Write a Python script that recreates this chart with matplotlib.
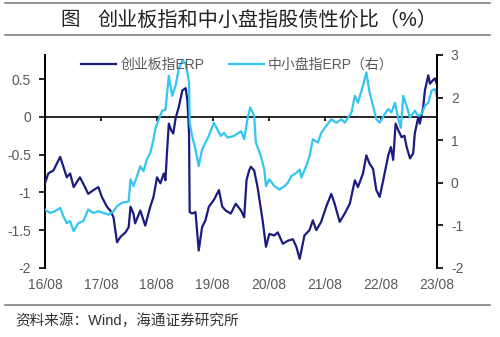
import matplotlib
matplotlib.use("Agg")
import matplotlib.pyplot as plt
import matplotlib.dates as mdates
import matplotlib.ticker as mticker
from matplotlib.lines import Line2D
import pandas as pd

plt.rcParams['font.family'] = ['Liberation Sans', 'Noto Sans CJK SC', 'DejaVu Sans']
plt.rcParams['axes.unicode_minus'] = False

# 创业板指ERP (left axis)
chinext_dates = [
    "2016-08-01", "2016-08-22", "2016-09-25", "2016-11-08", "2016-11-29", "2016-12-21",
    "2017-01-12", "2017-02-04", "2017-03-17", "2017-04-19", "2017-05-10", "2017-06-13",
    "2017-07-15", "2017-08-07", "2017-09-09", "2017-10-01", "2017-10-22", "2017-11-14",
    "2017-12-06", "2018-01-08", "2018-01-29", "2018-02-10", "2018-03-01", "2018-03-12",
    "2018-04-15", "2018-05-17", "2018-06-19", "2018-07-10", "2018-08-02", "2018-08-24",
    "2018-09-15", "2018-09-26", "2018-10-07", "2018-10-18", "2018-11-03", "2018-11-16",
    "2018-12-01", "2018-12-22", "2019-01-14", "2019-02-05", "2019-02-16", "2019-02-27",
    "2019-03-03", "2019-03-19", "2019-04-10", "2019-05-01", "2019-05-23", "2019-06-14",
    "2019-07-06", "2019-08-08", "2019-09-10", "2019-10-02", "2019-10-24", "2019-11-26",
    "2019-12-29", "2020-02-01", "2020-02-22", "2020-03-08", "2020-03-25", "2020-04-05",
    "2020-04-27", "2020-05-19", "2020-06-21", "2020-07-13", "2020-08-04", "2020-09-06",
    "2020-09-28", "2020-10-31", "2020-12-03", "2021-01-05", "2021-01-27", "2021-02-18",
    "2021-03-21", "2021-04-23", "2021-05-15", "2021-06-06", "2021-07-08", "2021-08-10",
    "2021-09-12", "2021-10-04", "2021-11-06", "2021-12-09", "2022-01-11", "2022-02-13",
    "2022-03-05", "2022-04-07", "2022-04-29", "2022-05-20", "2022-06-12", "2022-07-03",
    "2022-07-25", "2022-08-17", "2022-09-19", "2022-10-06", "2022-10-21", "2022-11-06",
    "2022-11-24", "2022-12-15", "2023-01-02", "2023-01-17", "2023-02-08", "2023-03-01",
    "2023-03-11", "2023-04-03", "2023-04-13", "2023-05-05", "2023-05-16", "2023-06-07",
    "2023-06-18", "2023-07-10", "2023-07-20", "2023-08-01",
]
chinext_erp = [
    -0.88, -0.75, -0.71, -0.53, -0.66, -0.80,
    -0.75, -0.93, -0.80, -0.93, -1.02, -0.97,
    -0.93, -1.06, -1.19, -1.24, -1.33, -1.66,
    -1.59, -1.53, -1.46, -1.19, -1.28, -1.41,
    -1.24, -1.44, -1.19, -1.06, -0.80, -0.88,
    -0.75, -0.84, -0.44, -0.09, -0.18, -0.22,
    -0.02, 0.13, 0.35, 0.38, 0.22, -0.22,
    -1.26, -1.28, -1.26, -1.77, -1.46, -1.37,
    -1.19, -1.10, -0.97, -1.19, -1.24, -1.28,
    -1.15, -1.24, -1.33, -0.84, -0.71, -0.66,
    -0.71, -0.93, -1.37, -1.72, -1.55, -1.57,
    -1.53, -1.68, -1.64, -1.62, -1.72, -1.88,
    -1.57, -1.50, -1.37, -1.50, -1.39, -1.19,
    -1.02, -1.15, -1.39, -1.28, -1.15, -0.84,
    -0.93, -0.75, -0.51, -0.62, -0.69, -0.97,
    -1.06, -0.84, -0.51, -0.40, -0.57, -0.09,
    -0.18, -0.27, -0.25, -0.40, -0.55, -0.48,
    -0.22, 0.00, -0.09, 0.13, 0.35, 0.55,
    0.44, 0.49, 0.51, 0.44,
]

# 中小盘指ERP (right axis)
smallcap_dates = [
    "2016-08-01", "2016-09-03", "2016-10-05", "2016-11-08", "2016-11-29", "2016-12-21",
    "2017-01-12", "2017-02-04", "2017-03-06", "2017-04-08", "2017-05-10", "2017-06-13",
    "2017-07-15", "2017-08-18", "2017-09-20", "2017-10-22", "2017-11-14", "2017-12-17",
    "2018-01-29", "2018-02-10", "2018-03-01", "2018-03-24", "2018-04-15", "2018-05-06",
    "2018-05-28", "2018-06-19", "2018-07-10", "2018-07-21", "2018-08-13", "2018-09-05",
    "2018-09-26", "2018-10-18", "2018-11-09", "2018-12-01", "2018-12-22", "2019-01-14",
    "2019-02-05", "2019-02-27", "2019-03-03", "2019-03-19", "2019-04-10", "2019-05-01",
    "2019-05-23", "2019-06-14", "2019-07-06", "2019-08-08", "2019-08-31", "2019-09-22",
    "2019-10-13", "2019-11-05", "2019-12-18", "2020-02-01", "2020-02-22", "2020-03-14",
    "2020-04-01", "2020-04-27", "2020-05-08", "2020-06-10", "2020-07-02", "2020-07-13",
    "2020-08-04", "2020-09-06", "2020-10-09", "2020-11-11", "2020-12-03", "2020-12-24",
    "2021-01-27", "2021-02-18", "2021-03-01", "2021-04-01", "2021-04-23", "2021-05-15",
    "2021-06-17", "2021-07-08", "2021-08-10", "2021-09-12", "2021-10-15", "2021-11-17",
    "2021-12-09", "2021-12-31", "2022-01-22", "2022-02-13", "2022-03-05", "2022-04-07",
    "2022-04-29", "2022-05-20", "2022-06-12", "2022-07-03", "2022-07-25", "2022-08-27",
    "2022-09-19", "2022-10-10", "2022-11-01", "2022-11-24", "2022-12-10", "2022-12-26",
    "2023-01-17", "2023-02-08", "2023-03-11", "2023-04-03", "2023-04-24", "2023-05-16",
    "2023-06-07", "2023-06-29", "2023-07-20", "2023-08-01",
]
smallcap_erp = [
    -0.63, -0.71, -0.67, -0.59, -0.79, -0.95,
    -0.90, -1.14, -0.95, -0.90, -0.63, -0.71,
    -0.67, -0.71, -0.75, -0.67, -0.55, -0.47,
    -0.44, 0.08, -0.08, 0.15, 0.39, 0.27,
    0.55, 0.70, 1.02, 1.25, 1.49, 1.69,
    1.71, 2.51, 2.04, 2.28, 2.67, 2.87,
    2.80, 2.36, 1.41, 1.10, 0.78, 0.39,
    0.78, 0.94, 1.10, 1.41, 1.25, 1.10,
    1.17, 1.06, 1.10, 1.21, 1.02, 1.49,
    1.77, 1.57, 0.94, 0.62, 0.31, -0.08,
    0.08, -0.08, -0.16, -0.08, 0.00, 0.15,
    0.23, 0.31, 0.12, 0.39, 0.62, 1.02,
    0.94, 1.17, 1.33, 1.49, 1.41, 1.49,
    1.41, 1.53, 1.65, 2.04, 1.88, 2.28,
    2.59, 2.12, 1.80, 1.49, 1.41, 1.61,
    1.73, 1.65, 1.88, 1.49, 1.29, 2.04,
    1.80, 1.53, 1.69, 1.57, 1.61, 1.80,
    1.88, 2.16, 2.20, 2.04,
]

left_ticks = [-2, -1.5, -1, -0.5, 0, 0.5]
right_ticks = [-2, -1, 0, 1, 2, 3]

NAVY = "#1b1b80"
CYAN = "#33c6f0"
GRAY = "#595959"

d1 = pd.to_datetime(chinext_dates)
d2 = pd.to_datetime(smallcap_dates)

fig = plt.figure(figsize=(5, 3.37), dpi=100)
ax = fig.add_axes([0.09, 0.205, 0.784, 0.632])
ax2 = ax.twinx()

l1, = ax.plot(d1, chinext_erp, color=NAVY, lw=1.6, zorder=3)
l2, = ax2.plot(d2, smallcap_erp, color=CYAN, lw=1.6)

ax.set_ylim(-2, 0.82)
ax2.set_ylim(-2, 3)
ax.set_xlim(pd.Timestamp("2016-08-01"), pd.Timestamp("2023-08-03"))
ax.set_yticks(left_ticks)
ax2.set_yticks(right_ticks)
fmt = mticker.FuncFormatter(lambda v, p: f"{v:g}")
ax.yaxis.set_major_formatter(fmt)
ax2.yaxis.set_major_formatter(fmt)

# zero line carries the x tick marks, labels sit at the bottom
for s in ["top", "right"]:
    ax.spines[s].set_visible(False)
for s in ["top", "left", "bottom"]:
    ax2.spines[s].set_visible(False)
ax.spines["bottom"].set_position(("data", 0))
ax.spines["bottom"].set_linewidth(1.2)
ax.spines["left"].set_linewidth(1.4)
ax2.spines["right"].set_linewidth(1.4)

loc = mdates.YearLocator(base=1, month=8, day=1)
ax.xaxis.set_major_locator(loc)
ax.tick_params(axis="x", direction="out", length=3, width=1.2, labelbottom=False)
sec = ax.secondary_xaxis("bottom")
sec.xaxis.set_major_locator(mdates.YearLocator(base=1, month=8, day=1))
sec.xaxis.set_major_formatter(mdates.DateFormatter("%y/%m"))
sec.spines["bottom"].set_visible(False)
sec.tick_params(length=0, pad=7, labelsize=10, labelcolor=GRAY)

ax.tick_params(axis="y", direction="out", length=4, width=1.2, pad=6, labelsize=10, labelcolor=GRAY)
ax2.tick_params(axis="y", direction="out", length=4, width=1.2, pad=6, labelsize=10, labelcolor=GRAY)

ax2.legend([l1, l2], ["创业板指ERP", "中小盘指ERP（右）"], loc="center",
           bbox_to_anchor=(0.475, 1 - 65 / 337), bbox_transform=fig.transFigure,
           ncol=2, frameon=False, fontsize=10, handlelength=2.5, handletextpad=0.3,
           columnspacing=1.8, labelcolor=GRAY)

# frame lines and captions
for yy in [1 - 3 / 337, 1 - 35 / 337, 1 - 305 / 337]:
    fig.add_artist(Line2D([0.01, 0.98], [yy, yy], transform=fig.transFigure,
                          color="#808080", lw=1.2))
fig.text(60 / 500, 1 - 20 / 337, "图", fontsize=14, fontweight="medium",
         color="#222222", va="center")
fig.text(97 / 500, 1 - 20 / 337, "创业板指和中小盘指股债性价比（%）", fontsize=14.5,
         fontweight="medium", color="#222222", va="center")
fig.text(15 / 500, 1 - 321 / 337, "资料来源：Wind，海通证券研究所", fontsize=10.5,
         color="#333333", va="center")

fig.savefig("out.png", dpi=100)
